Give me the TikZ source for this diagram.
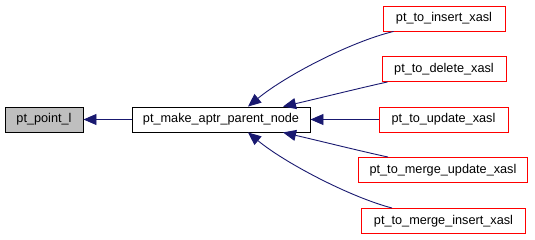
\documentclass[tikz,border=0pt]{standalone}
\usepackage{fontspec}
\setmainfont{Liberation Sans}
\usetikzlibrary{arrows.meta}
\definecolor{edgeblue}{HTML}{191970}
\definecolor{boxgray}{HTML}{BFBFBF}

\begin{document}
\begin{tikzpicture}[x=1pt,y=-1pt,
	fn/.style={draw=black,line width=0.9pt,inner xsep=0pt,minimum height=25pt,font=\fontsize{12.7}{14}\selectfont},
	caller/.style={fn,draw=red},
	call/.style={draw=edgeblue,line width=0.9pt,arrows={Triangle[length=13pt,width=11pt]-}}]
	\useasboundingbox (0,0) rectangle (535,240);

	\node[fn,fill=boxgray,minimum width=78pt]	(pl)	at (44,119.5)	{pt\_point\_l};
	\node[fn,minimum width=178pt]				(par)	at (221,119.5)	{pt\_make\_aptr\_parent\_node};
	\node[caller,minimum width=122pt]			(ins)	at (444,18.5)	{pt\_to\_insert\_xasl};
	\node[caller,minimum width=124pt]			(del)	at (444,69)		{pt\_to\_delete\_xasl};
	\node[caller,minimum width=129pt]			(upd)	at (443.5,119.5)	{pt\_to\_update\_xasl};
	\node[caller,minimum width=169pt]			(mu)	at (443,170)	{pt\_to\_merge\_update\_xasl};
	\node[caller,minimum width=164pt]			(mi)	at (443.5,221)	{pt\_to\_merge\_insert\_xasl};

	\draw[call]	(pl.east) -- (par.west);
	\draw[call]	([xshift=27pt]par.north) .. controls (285,76) and (350,42) .. ([xshift=11pt]ins.south west);
	\draw[call]	([xshift=62pt]par.north) .. controls (320,98) and (360,88) .. ([xshift=6pt]del.south west);
	\draw[call]	(par.east) -- (upd.west);
	\draw[call]	([xshift=62pt]par.south) .. controls (320,141) and (360,151) .. ([xshift=30pt]mu.north west);
	\draw[call]	([xshift=27pt]par.south) .. controls (285,163) and (350,197) .. ([xshift=31pt]mi.north west);
\end{tikzpicture}
\end{document}
